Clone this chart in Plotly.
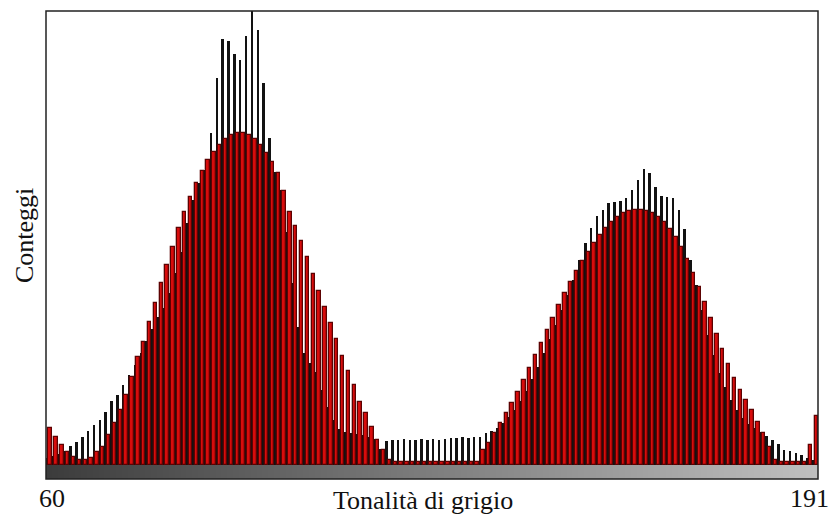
import plotly.graph_objects as go

levels = list(range(60, 192))

black_counts = [
    7, 9, 11, 14, 19, 23, 28, 34, 40, 45,
    53, 64, 70, 80, 90, 100, 112, 124, 136, 148,
    157, 172, 192, 213, 242, 265, 282, 295, 332, 387,
    426, 424, 411, 405, 429, 454, 435, 382, 327, 293,
    275, 233, 182, 138, 112, 102, 93, 75, 58, 45,
    36, 33, 32, 31, 30, 28, 26, 16, 24, 25,
    25, 26, 25, 25, 26, 25, 26, 25, 26, 27,
    27, 28, 27, 28, 28, 32, 34, 37, 42, 48,
    55, 64, 74, 86, 98, 112, 126, 140, 155, 170,
    185, 205, 222, 237, 249, 255, 262, 263, 264, 267,
    275, 285, 296, 292, 278, 269, 268, 267, 255, 236,
    205, 180, 155, 130, 110, 92, 78, 65, 55, 47,
    41, 37, 33, 29, 25, 21, 15, 14, 12, 10,
    7, 5,
]

red_counts = [
    37, 28, 20, 13, 8, 5, 5, 7, 13, 18,
    30, 42, 55, 70, 88, 108, 123, 143, 162, 182,
    200, 218, 237, 253, 268, 282, 294, 305, 313, 320,
    326, 330, 332, 332, 330, 326, 320, 312, 303, 292,
    274, 253, 239, 224, 208, 191, 174, 158, 142, 126,
    109, 94, 80, 63, 52, 38, 25, 15, 5, 3,
    3, 3, 3, 3, 3, 3, 3, 3, 3, 3,
    3, 3, 3, 3, 15, 22, 32, 42, 52, 62,
    73, 85, 97, 110, 122, 135, 147, 160, 172, 183,
    194, 204, 213, 222, 230, 237, 243, 248, 252, 254,
    255, 255, 254, 252, 248, 243, 236, 228, 218, 206,
    192, 178, 163, 147, 131, 116, 101, 87, 75, 65,
    55, 43, 32, 18, 5, 3, 3, 3, 3, 3,
    20, 49,
]

tick_values = [60, 191]
tick_labels = ["60", "191"]
tick_shifts = [3, -6]
x_title = "Tonalità di grigio"
y_title = "Conteggi"

assert len(black_counts) == len(levels) == len(red_counts)

FONT = "Liberation Serif, Times New Roman, serif"

fig = go.Figure()

fig.add_trace(go.Bar(
    x=levels, y=black_counts, offset=-0.5, width=0.42,
    marker=dict(color="#121212", line=dict(width=0)),
    xaxis="x", yaxis="y", showlegend=False,
))
fig.add_trace(go.Bar(
    x=levels, y=red_counts, offset=-0.08, width=0.58,
    marker=dict(color="#d80c0c", line=dict(color="#5c0202", width=1.3)),
    xaxis="x", yaxis="y", showlegend=False,
))
fig.add_trace(go.Heatmap(
    x=levels, y=[0], z=[levels], zmin=0, zmax=255,
    colorscale=[[0, "rgb(0,0,0)"], [1, "rgb(255,255,255)"]],
    showscale=False, xaxis="x", yaxis="y2", hoverinfo="skip",
))

annotations = [
    dict(text=x_title, xref="paper", yref="paper", x=0.488, y=-0.047,
         xanchor="center", yanchor="middle", showarrow=False,
         font=dict(family=FONT, size=26, color="#111")),
    dict(text=y_title, xref="paper", yref="paper", x=-0.028, y=0.52,
         xanchor="center", yanchor="middle", textangle=-90, showarrow=False,
         font=dict(family=FONT, size=26, color="#111")),
]
for tv, tl, sh in zip(tick_values, tick_labels, tick_shifts):
    annotations.append(dict(
        text=tl, xref="x", yref="paper", x=tv, y=-0.041, xshift=sh,
        xanchor="center", yanchor="middle", showarrow=False,
        font=dict(family=FONT, size=26, color="#111"),
    ))

fig.update_layout(
    width=835, height=515,
    margin=dict(l=46, r=17, t=11, b=36, autoexpand=False),
    paper_bgcolor="white", plot_bgcolor="white",
    barmode="overlay", bargap=0,
    xaxis=dict(
        range=[59.5, 191.5], tickvals=tick_values,
        showticklabels=False, showgrid=False, zeroline=False, showline=False,
        ticks="", anchor="y2", automargin=False,
    ),
    yaxis=dict(
        domain=[0.03, 1], range=[0, 454],
        showgrid=False, zeroline=False, showline=False,
        showticklabels=False, ticks="", automargin=False,
    ),
    yaxis2=dict(
        domain=[0, 0.03], range=[-0.5, 0.5],
        showgrid=False, zeroline=False, showline=False,
        showticklabels=False, ticks="", automargin=False,
    ),
    shapes=[dict(
        type="rect", xref="paper", yref="paper", x0=0, y0=0, x1=1, y1=1,
        line=dict(color="#222", width=1.5), fillcolor="rgba(0,0,0,0)",
        layer="above",
    )],
    annotations=annotations,
)

fig.write_html("out.html")
